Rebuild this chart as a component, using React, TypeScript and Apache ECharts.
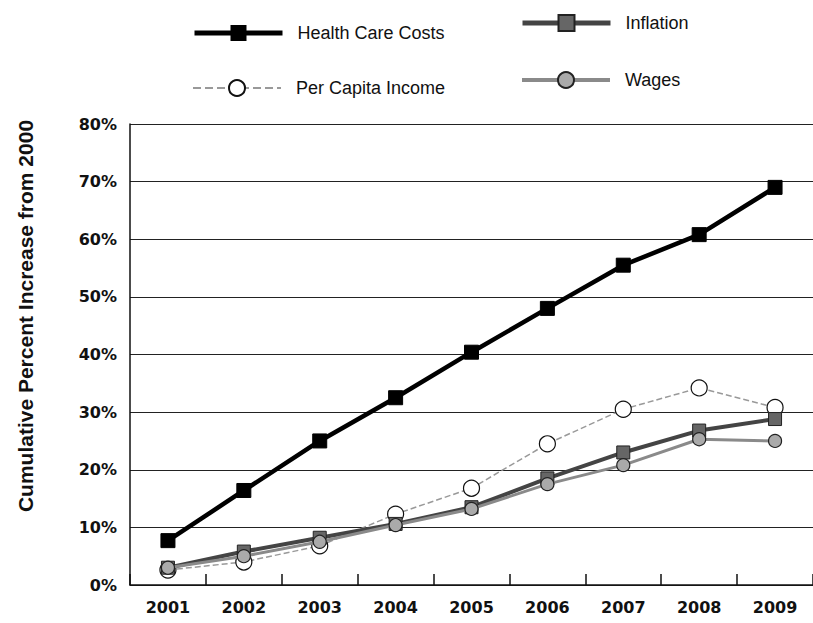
import React, { useEffect, useRef } from "react";
import * as echarts from "echarts";

const years = ["2001", "2002", "2003", "2004", "2005", "2006", "2007", "2008", "2009"];
const healthCare = [7.7, 16.4, 25, 32.5, 40.4, 48, 55.5, 60.8, 69];
const perCapitaIncome = [2.6, 4, 6.8, 12.3, 16.8, 24.5, 30.5, 34.2, 30.8];
const inflation = [3, 5.8, 8.2, 10.6, 13.5, 18.5, 23, 26.8, 28.8];
const wages = [3, 5, 7.5, 10.4, 13.2, 17.5, 20.8, 25.3, 25];

const FONT = "Liberation Sans";
const TICK_FONT = "DejaVu Sans";

const legendText = { fontFamily: FONT, fontSize: 18, color: "#111", padding: [0, 0, 8, 10] };

function legendItem(name: string, left: number, top: number, width: number) {
  return {
    orient: "vertical",
    left,
    top,
    itemWidth: 88,
    itemHeight: 20,
    data: [{ name, lineStyle: { width } }],
    textStyle: legendText,
  };
}

export default function App() {
  const ref = useRef<HTMLDivElement>(null);
  useEffect(() => {
    const chart = echarts.init(ref.current!, undefined, { renderer: "svg" });
    chart.setOption({
      animation: false,
      backgroundColor: "#ffffff",
      grid: { left: 130, right: 0, top: 124, bottom: 38 },
      legend: [
        legendItem("Health Care Costs", 187, 19, 5),
        legendItem("Per Capita Income", 187, 74, 2),
        legendItem("Inflation", 515, 9, 5),
        legendItem("Wages", 515, 66, 4),
      ],
      graphic: [
        {
          type: "text",
          x: 25,
          y: 316,
          rotation: Math.PI / 2,
          style: {
            text: "Cumulative Percent Increase from 2000",
            fontFamily: FONT,
            fontWeight: "bold",
            fontSize: 21,
            fill: "#111",
            align: "center",
            verticalAlign: "middle",
          },
        },
      ],
      xAxis: {
        type: "category",
        data: years,
        boundaryGap: true,
        axisLine: { lineStyle: { color: "#111", width: 1.5 } },
        axisTick: { show: true, inside: true, length: 11, lineStyle: { color: "#111", width: 1.5 } },
        axisLabel: { fontFamily: TICK_FONT, fontWeight: "bold", fontSize: 16, color: "#111", margin: 14 },
      },
      yAxis: {
        type: "value",
        min: 0,
        max: 80,
        interval: 10,
        axisLine: { show: true, lineStyle: { color: "#111", width: 1.5 } },
        axisTick: { show: false },
        splitLine: { lineStyle: { color: "#222", width: 1 } },
        axisLabel: {
          formatter: "{value}%",
          fontFamily: TICK_FONT,
          fontWeight: "bold",
          fontSize: 16,
          color: "#111",
          margin: 13,
        },
      },
      series: [
        {
          name: "Per Capita Income",
          type: "line",
          data: perCapitaIncome,
          symbol: "circle",
          symbolSize: 16,
          z: 2,
          lineStyle: { color: "#999", width: 1.5, type: "dashed" },
          itemStyle: { color: "#fff", borderColor: "#111", borderWidth: 1.2 },
        },
        {
          name: "Inflation",
          type: "line",
          data: inflation,
          symbol: "rect",
          symbolSize: 13,
          z: 3,
          lineStyle: { color: "#444", width: 4 },
          itemStyle: { color: "#666", borderColor: "#222", borderWidth: 1 },
        },
        {
          name: "Wages",
          type: "line",
          data: wages,
          symbol: "circle",
          symbolSize: 13,
          z: 4,
          lineStyle: { color: "#8a8a8a", width: 3 },
          itemStyle: { color: "#aaa", borderColor: "#222", borderWidth: 1.2 },
        },
        {
          name: "Health Care Costs",
          type: "line",
          data: healthCare,
          symbol: "rect",
          symbolSize: 14,
          z: 5,
          lineStyle: { color: "#000", width: 4.5 },
          itemStyle: { color: "#000", borderColor: "#000" },
        },
      ],
    });
    return () => chart.dispose();
  }, []);
  return <div ref={ref} style={{ width: 813, height: 623, position: "absolute", left: 0, top: 0 }} />;
}
